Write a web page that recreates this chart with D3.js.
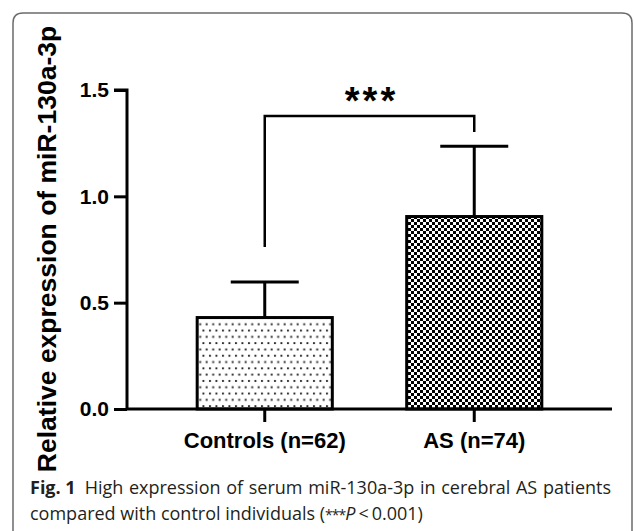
<!DOCTYPE html>
<html>
<head>
<meta charset="utf-8">
<script src="https://cdn.jsdelivr.net/npm/d3@7"></script>
<style>
  html, body { margin: 0; padding: 0; background: #fff; }
  svg { display: block; }
</style>
</head>
<body>
<script>
// ---- data ----
const categories = ["Controls (n=62)", "AS (n=74)"];
const means = [0.43, 0.905];
const errorTops = [0.597, 1.236];
const patterns = ["dots", "checker"];
const yTicks = [0.0, 0.5, 1.0, 1.5];
const yLabel = "Relative expression of miR-130a-3p";
const sigLabel = "***";
const sigBracket = { top: 1.378, leftBottom: 0.762, rightBottom: 1.302 };
const captionBold = "Fig. 1";
const captionLine1 = "High expression of serum miR-130a-3p in cerebral AS patients";
const captionLine2a = "compared with control individuals (";
const captionStars = "***";
const captionLine2b = "P";
const captionLine2c = "\u2009<\u20090.001)";

// ---- layout ----
const W = 634, H = 531;
const svg = d3.select("body").append("svg").attr("width", W).attr("height", H);

// border with rounded top corners
const r = 10, bx0 = 13, bx1 = 632, by0 = 13;
svg.append("path")
  .attr("d", `M${bx0},${H + 5} L${bx0},${by0 + r} Q${bx0},${by0} ${bx0 + r},${by0} L${bx1 - r},${by0} Q${bx1},${by0} ${bx1},${by0 + r} L${bx1},${H + 5}`)
  .attr("fill", "none").attr("stroke", "#6b6b6b").attr("stroke-width", 1.5);

const defs = svg.append("defs");
// dotted pattern
const pd = defs.append("pattern").attr("id", "dots").attr("patternUnits", "userSpaceOnUse")
  .attr("width", 6.5).attr("height", 12.6);
pd.append("rect").attr("width", 6.5).attr("height", 12.6).attr("fill", "#fff");
pd.append("rect").attr("x", 1).attr("y", 2).attr("width", 1.9).attr("height", 1.9).attr("fill", "#222");
pd.append("rect").attr("x", 4.25).attr("y", 8.3).attr("width", 1.9).attr("height", 1.9).attr("fill", "#222");
// checker pattern
const pc = defs.append("pattern").attr("id", "checker").attr("patternUnits", "userSpaceOnUse")
  .attr("width", 6).attr("height", 6);
pc.append("rect").attr("width", 6).attr("height", 6).attr("fill", "#fff");
pc.append("rect").attr("x", 0).attr("y", 0).attr("width", 3).attr("height", 3).attr("fill", "#000");
pc.append("rect").attr("x", 3).attr("y", 3).attr("width", 3).attr("height", 3).attr("fill", "#000");

const y = d3.scaleLinear().domain([0, 1.5]).range([409, 90]);
const x = d3.scaleBand().domain(categories).range([127, 612]).paddingInner(0.355).paddingOuter(0.335);

const font = "'Liberation Sans', Arial, sans-serif";

// bars
const g = svg.append("g");
g.selectAll("rect.bar").data(categories).enter().append("rect")
  .attr("class", "bar")
  .attr("x", d => x(d))
  .attr("y", (d, i) => y(means[i]))
  .attr("width", x.bandwidth())
  .attr("height", (d, i) => y(0) - y(means[i]))
  .attr("fill", (d, i) => `url(#${patterns[i]})`)
  .attr("stroke", "#000").attr("stroke-width", 3);

// error bars
const capW = 68;
categories.forEach((c, i) => {
  const cx = x(c) + x.bandwidth() / 2;
  g.append("line").attr("x1", cx).attr("x2", cx).attr("y1", y(means[i])).attr("y2", y(errorTops[i]))
    .attr("stroke", "#000").attr("stroke-width", 3);
  g.append("line").attr("x1", cx - capW / 2).attr("x2", cx + capW / 2).attr("y1", y(errorTops[i])).attr("y2", y(errorTops[i]))
    .attr("stroke", "#000").attr("stroke-width", 3);
});

// y axis
const yAxis = svg.append("g").attr("transform", "translate(127,0)")
  .call(d3.axisLeft(y).tickValues(yTicks).tickFormat(d3.format(".1f")).tickSize(13).tickPadding(5));
yAxis.select(".domain").attr("stroke-width", 3).attr("d", `M-13,${y(1.5)}H0V${y(0)}`);
yAxis.selectAll(".tick line").attr("stroke-width", 3);
yAxis.selectAll(".tick text").attr("font-family", font).attr("font-weight", "bold").attr("font-size", 21).attr("fill", "#000");

// x axis
const xAxis = svg.append("g").attr("transform", `translate(0,${y(0)})`)
  .call(d3.axisBottom(x).tickSize(13).tickPadding(10));
xAxis.select(".domain").attr("stroke-width", 3).attr("d", `M127,0H612`);
xAxis.selectAll(".tick line").attr("stroke-width", 3);
xAxis.selectAll(".tick text").attr("font-family", font).attr("font-weight", "bold").attr("font-size", 22).attr("fill", "#000");

// y label
svg.append("text")
  .attr("transform", "translate(56,249) rotate(-90)")
  .attr("text-anchor", "middle")
  .attr("font-family", font).attr("font-weight", "bold").attr("font-size", 26.5)
  .text(yLabel);

// significance bracket
const lx = x(categories[0]) + x.bandwidth() / 2;
const rx = x(categories[1]) + x.bandwidth() / 2;
svg.append("path")
  .attr("d", `M${lx},${y(sigBracket.leftBottom)}V${y(sigBracket.top)}H${rx}V${y(sigBracket.rightBottom)}`)
  .attr("fill", "none").attr("stroke", "#000").attr("stroke-width", 2.5);
svg.append("text")
  .attr("x", (lx + rx) / 2 + 2).attr("y", 114)
  .attr("text-anchor", "middle")
  .attr("letter-spacing", 3)
  .attr("font-family", font).attr("font-weight", "bold").attr("font-size", 38)
  .text(sigLabel);

// caption
const cfont = "'Open Sans', 'Noto Sans', sans-serif";
const c1 = svg.append("text").attr("x", 30).attr("y", 494).attr("font-family", cfont).attr("font-size", 18).attr("fill", "#231f20");
c1.append("tspan").attr("font-weight", "bold").text(captionBold);
c1.append("tspan").attr("dx", 9).attr("word-spacing", 1).text(captionLine1);
const c2 = svg.append("text").attr("x", 30).attr("y", 520).attr("font-family", cfont).attr("font-size", 18).attr("fill", "#231f20");
c2.append("tspan").text(captionLine2a);
c2.append("tspan").attr("font-size", 14).attr("letter-spacing", -1).text(captionStars);
c2.append("tspan").attr("font-style", "italic").text(captionLine2b);
c2.append("tspan").text(captionLine2c);
</script>
</body>
</html>
